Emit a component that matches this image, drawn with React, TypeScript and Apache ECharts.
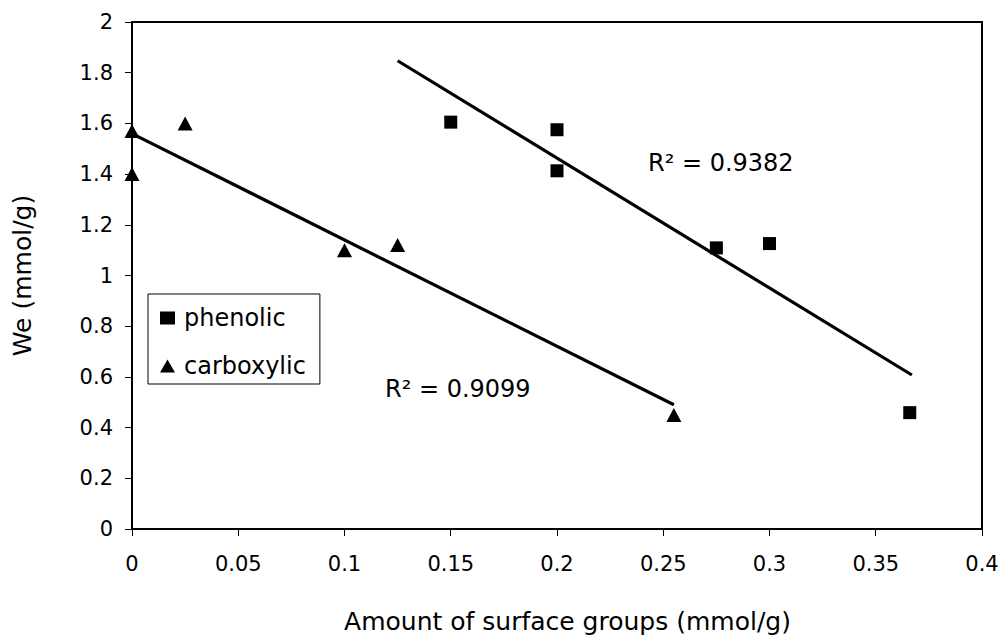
import React, { useEffect, useRef } from "react";
import * as echarts from "echarts";

// phenolic: amount of surface groups (mmol/g) vs We (mmol/g)
const phenolicX = [0.15, 0.2, 0.2, 0.275, 0.3, 0.366];
const phenolicY = [1.605, 1.575, 1.413, 1.109, 1.126, 0.459];
// carboxylic
const carboxylicX = [0, 0, 0.025, 0.1, 0.125, 0.255];
const carboxylicY = [1.57, 1.40, 1.60, 1.10, 1.12, 0.45];

// x-extent over which each linear trend line is drawn
const phenolicTrendRange = [0.125, 0.367];
const carboxylicTrendRange = [0, 0.255];

const phenolicR2 = "R² = 0.9382";
const carboxylicR2 = "R² = 0.9099";

const xTitle = "Amount of surface groups (mmol/g)";
const yTitle = "We (mmol/g)";

const FONT = "DejaVu Sans";

function linFit(xs: number[], ys: number[]) {
  const n = xs.length;
  const mx = xs.reduce((a, b) => a + b, 0) / n;
  const my = ys.reduce((a, b) => a + b, 0) / n;
  let sxy = 0;
  let sxx = 0;
  for (let i = 0; i < n; i++) {
    sxy += (xs[i] - mx) * (ys[i] - my);
    sxx += (xs[i] - mx) * (xs[i] - mx);
  }
  const slope = sxy / sxx;
  const intercept = my - slope * mx;
  return (x: number) => intercept + slope * x;
}

function trend(xs: number[], ys: number[], range: number[]) {
  const f = linFit(xs, ys);
  return range.map((x) => [x, f(x)]);
}

function zip(xs: number[], ys: number[]) {
  return xs.map((x, i) => [x, ys[i]]);
}

export default function App() {
  const ref = useRef<HTMLDivElement>(null);

  useEffect(() => {
    if (!ref.current) return;
    const chart = echarts.init(ref.current, undefined, { renderer: "svg" });
    const fmt = (v: number) => String(+v.toFixed(3));
    chart.setOption({
      animation: false,
      backgroundColor: "#ffffff",
      textStyle: { fontFamily: FONT, color: "#000" },
      grid: {
        left: 132,
        right: 21,
        top: 22,
        bottom: 109,
        show: true,
        borderColor: "#000",
        borderWidth: 2,
        containLabel: false,
      },
      xAxis: {
        type: "value",
        min: 0,
        max: 0.4,
        interval: 0.05,
        name: xTitle,
        nameLocation: "middle",
        nameGap: 80,
        nameTextStyle: { fontFamily: FONT, fontSize: 25, color: "#000", padding: [0, 0, 0, 21] },
        axisLine: { show: true, onZero: false, lineStyle: { color: "#000", width: 2 } },
        axisTick: { show: true, inside: false, length: 7, lineStyle: { color: "#000", width: 1 } },
        axisLabel: { fontFamily: FONT, fontSize: 21, color: "#000", margin: 24, formatter: fmt },
        splitLine: { show: false },
      },
      yAxis: {
        type: "value",
        min: 0,
        max: 2,
        interval: 0.2,
        name: yTitle,
        nameLocation: "middle",
        nameGap: 97,
        nameRotate: 90,
        nameTextStyle: { fontFamily: FONT, fontSize: 25, color: "#000" },
        axisLine: { show: true, onZero: false, lineStyle: { color: "#000", width: 2 } },
        axisTick: { show: true, inside: false, length: 7, lineStyle: { color: "#000", width: 1 } },
        axisLabel: { fontFamily: FONT, fontSize: 21, color: "#000", margin: 19, formatter: fmt },
        splitLine: { show: false },
      },
      legend: {
        left: 148,
        top: 294,
        orient: "vertical",
        data: [
          { name: "phenolic", icon: "rect", itemStyle: { color: "#000", opacity: 1 } },
          { name: "carboxylic", icon: "triangle", itemStyle: { color: "#000", opacity: 1 } },
        ],
        itemWidth: 15,
        itemHeight: 13,
        itemGap: 24,
        padding: [12, 14, 6, 12],
        borderColor: "#000",
        borderWidth: 1,
        backgroundColor: "#fff",
        textStyle: { fontFamily: FONT, fontSize: 24, color: "#000", lineHeight: 24, padding: [0, 0, 0, 4] },
      },
      series: [
        {
          name: "phenolic trend",
          type: "line",
          data: trend(phenolicX, phenolicY, phenolicTrendRange),
          showSymbol: false,
          symbol: "none",
          lineStyle: { color: "#000", width: 3.2 },
          silent: true,
          z: 1,
        },
        {
          name: "carboxylic trend",
          type: "line",
          data: trend(carboxylicX, carboxylicY, carboxylicTrendRange),
          showSymbol: false,
          symbol: "none",
          lineStyle: { color: "#000", width: 3.2 },
          silent: true,
          z: 1,
        },
        {
          name: "phenolic",
          type: "scatter",
          data: zip(phenolicX, phenolicY),
          symbol: "rect",
          symbolSize: 13,
          itemStyle: { color: "#000", opacity: 1 },
          clip: false,
          z: 3,
        },
        {
          name: "carboxylic",
          type: "scatter",
          data: zip(carboxylicX, carboxylicY),
          symbol: "triangle",
          symbolSize: [15, 14],
          itemStyle: { color: "#000", opacity: 1 },
          clip: false,
          z: 3,
        },
      ],
      graphic: [
        {
          type: "text",
          left: 648,
          top: 163 - 12,
          style: { text: phenolicR2, fontFamily: FONT, fontSize: 24, fill: "#000" },
        },
        {
          type: "text",
          left: 385,
          top: 389 - 12,
          style: { text: carboxylicR2, fontFamily: FONT, fontSize: 24, fill: "#000" },
        },
      ],
    });
    return () => chart.dispose();
  }, []);

  return (
    <div
      ref={ref}
      style={{ position: "fixed", left: 0, top: 0, width: 1003, height: 639, background: "#fff" }}
    />
  );
}
